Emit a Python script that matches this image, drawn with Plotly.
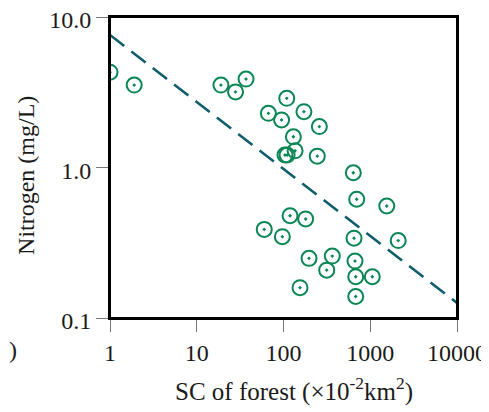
import plotly.graph_objects as go

# data
forest_sc = [1, 1.9, 19, 28, 37, 109, 67, 95, 172, 259, 130, 136, 104, 110, 245, 638,
             698, 1550, 119, 180, 60, 97, 650, 2100, 197, 365, 667, 315, 680, 1056, 155, 680]
nitrogen = [4.3, 3.53, 3.53, 3.18, 3.87, 2.88, 2.29, 2.07, 2.35, 1.87, 1.60, 1.29, 1.21, 1.21, 1.19, 0.923,
            0.615, 0.555, 0.478, 0.455, 0.388, 0.347, 0.339, 0.327, 0.249, 0.258, 0.239, 0.208, 0.188, 0.188, 0.159, 0.139]
fit_x = [1, 10000]
fit_y = [7.6, 0.126]

xticks = [1, 10, 100, 1000, 10000]
xticklabels = ["1", "10", "100", "1000", "10000"]
yticks = [0.1, 1, 10]
yticklabels = ["0.1", "1.0", "10.0"]

x_title = "SC of forest (×10<sup>-2</sup>km<sup>2</sup>)"
y_title = "Nitrogen (mg/L)"
panel_fragment = ")"

font = "Liberation Serif"
txt = "#1a1a1a"

fig = go.Figure()
fig.add_trace(go.Scatter(x=fit_x, y=fit_y, mode="lines",
                         line=dict(color="#0f5d6c", width=2.6, dash="18px,9px"),
                         showlegend=False, hoverinfo="skip"))
fig.add_trace(go.Scatter(x=forest_sc, y=nitrogen, mode="markers",
                         marker=dict(symbol="circle-open-dot", size=15, color="#0a8654",
                                     line=dict(width=2, color="#0a8654")),
                         showlegend=False))

axis_common = dict(showgrid=False, zeroline=False, showline=True, linecolor="black", linewidth=2,
                   mirror=True, ticks="outside", ticklen=12, tickwidth=1.2, tickcolor="#777",
                   automargin=False, ticklabeloverflow="allow",
                   tickfont=dict(family=font, size=24, color=txt))

fig.update_xaxes(type="log", range=[0, 4], tickvals=xticks, ticktext=xticklabels, **axis_common)
fig.update_yaxes(type="log", range=[-1, 1], tickvals=yticks, ticktext=yticklabels,
                 ticklabelshift=3, **axis_common)

# frame around the plot area
fig.add_shape(type="rect", xref="paper", yref="paper", x0=0, x1=1, y0=0, y1=1,
              line=dict(color="black", width=2), layer="above")

fig.add_annotation(text=x_title, xref="paper", yref="paper", x=0.530, y=-0.239,
                   xanchor="center", yanchor="middle", showarrow=False,
                   font=dict(family=font, size=25, color=txt))
fig.add_annotation(text=y_title, xref="paper", yref="paper", x=-0.242, y=0.472,
                   xanchor="center", yanchor="middle", showarrow=False, textangle=-90,
                   font=dict(family=font, size=24, color=txt))
fig.add_annotation(text=panel_fragment, xref="paper", yref="paper", x=-0.262, y=-0.105,
                   xanchor="right", yanchor="middle", showarrow=False,
                   font=dict(family=font, size=24, color=txt))

# page body adds an 8px margin, so the figure is 8px smaller and margins shifted
fig.update_layout(width=481, height=404, margin=dict(l=102, r=32, t=9, b=94, autoexpand=False),
                  plot_bgcolor="white", paper_bgcolor="white")

fig.write_html("out.html")
